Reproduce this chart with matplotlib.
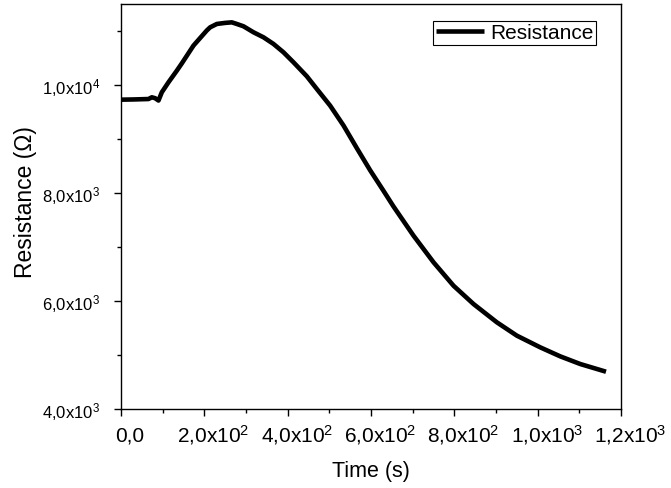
import numpy as np
import matplotlib
matplotlib.use("Agg")
import matplotlib.pyplot as plt
import matplotlib.transforms as mtransforms
from matplotlib.ticker import FuncFormatter, MultipleLocator

plt.rcParams["font.family"] = ["Liberation Sans", "DejaVu Sans"]
plt.rcParams["mathtext.fontset"] = "custom"
plt.rcParams["mathtext.rm"] = "Liberation Sans"
plt.rcParams["mathtext.it"] = "Liberation Sans"

# values
time_s = [0, 30, 66, 74, 82, 90, 98, 114, 134, 146, 174, 206, 214, 230, 250,
          266, 278, 294, 318, 342, 366, 390, 414, 446, 470, 502, 534, 550,
          566, 598, 630, 654, 670, 702, 750, 798, 846, 902, 950, 1006, 1054,
          1102, 1164]
resistance = [9728, 9732, 9740, 9772, 9755, 9712, 9865, 10050, 10265, 10400,
              10730, 11010, 11068, 11130, 11150, 11160, 11130, 11087, 10976,
              10883, 10760, 10605, 10420, 10161, 9926, 9617, 9250, 9040,
              8830, 8420, 8040, 7750, 7570, 7210, 6717, 6283, 5944, 5605,
              5358, 5142, 4975, 4833, 4690]


def sci_fmt(v, pos):
    if abs(v) < 1e-9:
        return "0,0"
    e = int(np.floor(np.log10(abs(v))))
    m = v / 10 ** e
    return ("%.1f" % m).replace(".", ",") + "x10$^{%d}$" % e


fig = plt.figure(figsize=(6.71, 4.89), dpi=100)
ax = fig.add_axes([0.1803, 0.1616, 0.7452, 0.8282])

ax.plot(time_s, resistance, color="black", lw=3.3, label="Resistance",
        solid_joinstyle="round", solid_capstyle="butt")

ax.set_xlim(0, 1200)
ax.set_ylim(4000, 11500)
ax.xaxis.set_major_locator(MultipleLocator(200))
ax.xaxis.set_minor_locator(MultipleLocator(100))
ax.yaxis.set_major_locator(MultipleLocator(2000))
ax.yaxis.set_minor_locator(MultipleLocator(1000))
ax.xaxis.set_major_formatter(FuncFormatter(sci_fmt))
ax.yaxis.set_major_formatter(FuncFormatter(sci_fmt))

ax.tick_params(which="both", direction="out", top=False, right=False,
               width=1, colors="black")
ax.tick_params(which="major", length=5)
ax.tick_params(which="minor", length=3)
ax.tick_params(axis="x", which="major", pad=18, labelsize=15)
ax.tick_params(axis="y", which="major", pad=10, labelsize=12)
for s in ax.spines.values():
    s.set_linewidth(1)

# x labels sit a bit right of their ticks, on a common baseline
shift = mtransforms.ScaledTranslation(0.09, 0, fig.dpi_scale_trans)
for tick in ax.xaxis.get_major_ticks():
    tick.label1.set_verticalalignment("baseline")
    tick.label1.set_transform(tick.label1.get_transform() + shift)

ax.set_xlabel("Time (s)", fontsize=15.5)
ax.set_ylabel("Resistance (\u03a9)", fontsize=16.5)
ax.xaxis.set_label_coords(0.5, -0.125)
ax.yaxis.set_label_coords(-0.168, 0.513)

leg = ax.legend(loc="upper right", bbox_to_anchor=(0.95, 0.958),
                borderaxespad=0, fancybox=False, fontsize=15,
                handlelength=2.3, handletextpad=0.3, borderpad=0.12,
                framealpha=1)
leg.get_frame().set_edgecolor("black")
leg.get_frame().set_linewidth(0.8)

fig.savefig("out.png", dpi=100)
